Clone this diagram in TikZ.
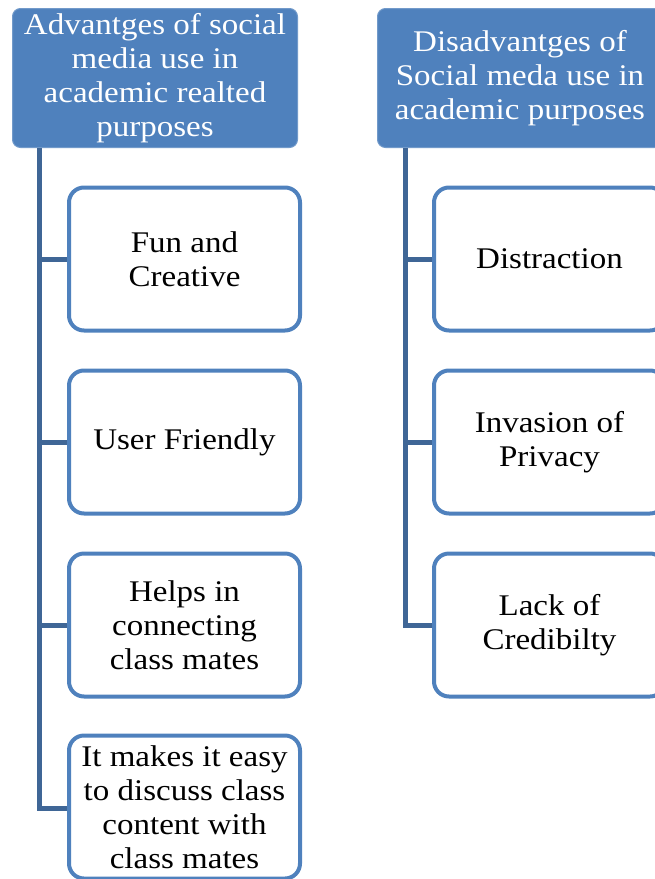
\documentclass[tikz,border=0pt]{standalone}
\usepackage{xcolor}
\usepackage{fontspec}
\setmainfont{Liberation Serif}[FakeStretch=1.1]
\usetikzlibrary{positioning}
\definecolor{hdrblue}{HTML}{4F81BD}
\definecolor{trunkblue}{HTML}{3F6696}
\tikzset{
    hdrbox/.style={fill=hdrblue, draw=hdrblue!80!white, line width=1pt, rounded corners=8pt,
        text=white, align=center, minimum width=285pt, minimum height=139pt,
        font=\fontsize{30}{34}\selectfont, inner sep=0pt},
    itembox/.style={fill=white, draw=hdrblue, line width=4pt, rounded corners=15pt,
        text=black, align=center, minimum width=231pt, minimum height=143pt,
        font=\fontsize{30}{34}\selectfont, inner sep=0pt},
    trunk/.style={draw=trunkblue, line width=5pt}
}

\begin{document}
\begin{tikzpicture}[x=1pt,y=-1pt]
    % fix the page size
    \useasboundingbox (0,0) rectangle (655,879);

    % draw the two headers
    \node[hdrbox] (advhdr) at (155,78) {Advantges of social\\media use in\\academic realted\\purposes};
    \node[hdrbox] (disadvhdr) at (520,78) {Disadvantges of\\Social meda use in\\academic purposes};

    % draw the trunk lines first
    \coordinate (advtop) at (39,148);
    \coordinate (distop) at (405,148);
    \foreach \n in {1,2,3,4}
        \draw[trunk] (advtop) |- (184.5, 76+\n*183);
    \foreach \n in {1,2,3}
        \draw[trunk] (distop) |- (549.5, 76+\n*183);

    % draw the advantage boxes
    \node[itembox] (adv1) at (184.5,259) {Fun and\\Creative};
    \node[itembox] (adv2) at (184.5,442) {User Friendly};
    \node[itembox] (adv3) at (184.5,625) {Helps in\\connecting\\class mates};
    \node[itembox] (adv4) at (184.5,807) {It makes it easy\\to discuss class\\content with\\class mates};

    % draw the disadvantage boxes
    \node[itembox] (dis1) at (549.5,259) {Distraction};
    \node[itembox] (dis2) at (549.5,442) {Invasion of\\Privacy};
    \node[itembox] (dis3) at (549.5,625) {Lack of\\Credibilty};
\end{tikzpicture}
\end{document}
